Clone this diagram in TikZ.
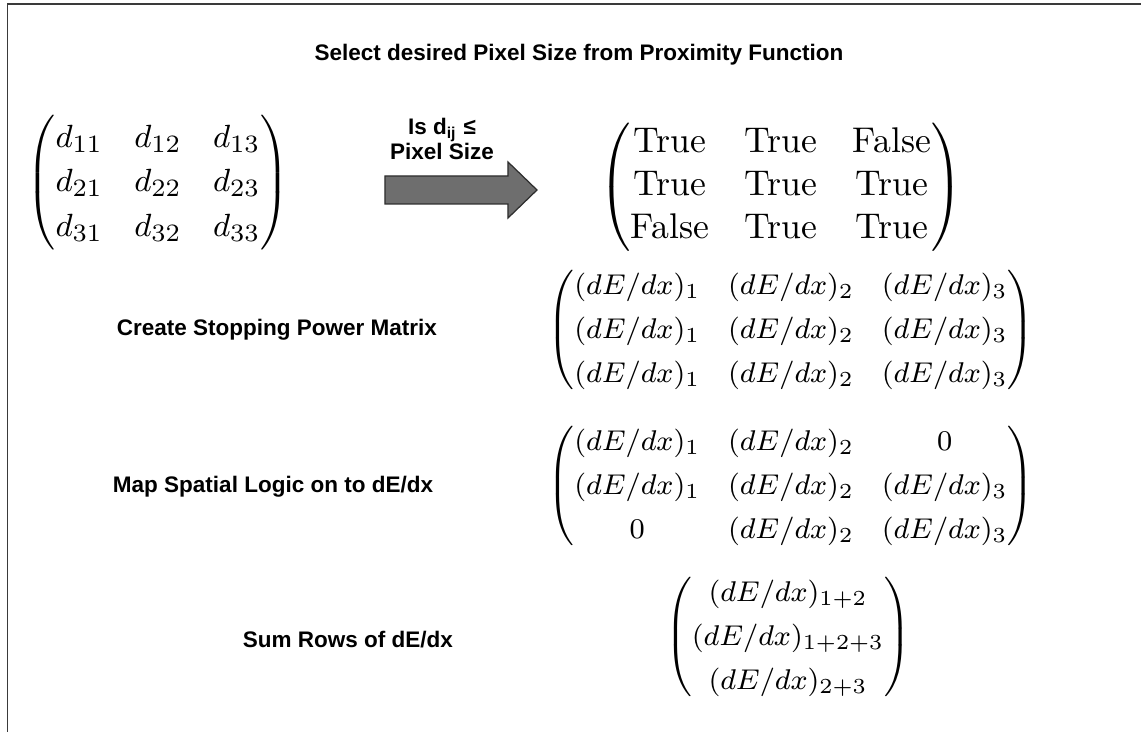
\documentclass[tikz,border=0pt]{standalone}
\usepackage{amsmath}
\usepackage{fontspec}
\newfontfamily\labfont{Liberation Sans}
\definecolor{framegray}{HTML}{3A3A3A}
\definecolor{arrowfill}{HTML}{6E6E6E}
\definecolor{arrowedge}{HTML}{2E2E2E}
\newcommand\smallmat{\fontsize{8.25}{11}\selectfont\setlength\arraycolsep{3.9pt}\renewcommand\arraystretch{1.12}\delimiterfactor=820 \delimitershortfall=10pt }
\newcommand\summat{\fontsize{8.5}{11}\selectfont\setlength\arraycolsep{3.9pt}\renewcommand\arraystretch{1.12}\delimiterfactor=820 \delimitershortfall=10pt }
\newcommand\dmat{\fontsize{9.5}{11.5}\selectfont\setlength\arraycolsep{4.4pt}\renewcommand\arraystretch{1.08}}
\tikzset{
  lbl/.style={font=\labfont\bfseries\fontsize{6.3}{7.6}\selectfont, align=center, inner sep=0pt},
  mat/.style={inner sep=0pt},
  framestyle/.style={draw=framegray, line width=0.5pt},
  bigarrow/.style={fill=arrowfill, draw=arrowedge, line width=0.35pt, line join=miter}
}
\begin{document}
\begin{tikzpicture}[x=0.28pt,y=-0.28pt]
\useasboundingbox (0,0) rectangle (1141,732);
\coordinate (fa) at (7.5,732);
\coordinate (fb) at (7.5,4);
\coordinate (fc) at (1141,4);
\draw[framestyle] (fa) -- (fb) -- (fc);

\node[lbl] (title) at (579,55) {Select desired Pixel Size from Proximity Function};

\node[mat] (D) at (158,183) {\dmat$\begin{pmatrix} d_{11} & d_{12} & d_{13}\\ d_{21} & d_{22} & d_{23}\\ d_{31} & d_{32} & d_{33}\end{pmatrix}$};

\node[lbl] (cond) at (442,139) {Is d\textsubscript{ij} ≤\\[-0.5pt]Pixel Size};
\filldraw[bigarrow] (385,176) -- (508,176) -- (508,162) -- (537,190) -- (508,218) -- (508,204) -- (385,204) -- cycle;

\node[mat] (TF) at (781,187) {$\begin{pmatrix} \text{True} & \text{True} & \text{False}\\ \text{True} & \text{True} & \text{True}\\ \text{False} & \text{True} & \text{True}\end{pmatrix}$};

\node[lbl] (stoplbl) at (277,330) {Create Stopping Power Matrix};
\node[mat] (stop) at (791,330) {\smallmat$\begin{pmatrix} (dE/dx)_1 & (dE/dx)_2 & (dE/dx)_3\\ (dE/dx)_1 & (dE/dx)_2 & (dE/dx)_3\\ (dE/dx)_1 & (dE/dx)_2 & (dE/dx)_3\end{pmatrix}$};

\node[lbl] (maplbl) at (273,487) {Map Spatial Logic on to dE/dx};
\node[mat] (map) at (791,486) {\smallmat$\begin{pmatrix} (dE/dx)_1 & (dE/dx)_2 & 0\\ (dE/dx)_1 & (dE/dx)_2 & (dE/dx)_3\\ 0 & (dE/dx)_2 & (dE/dx)_3\end{pmatrix}$};

\node[lbl] (sumlbl) at (348,640) {Sum Rows of dE/dx};
\node[mat] (sum) at (788,637) {\summat$\begin{pmatrix} (dE/dx)_{1+2}\\ (dE/dx)_{1+2+3}\\ (dE/dx)_{2+3}\end{pmatrix}$};
\end{tikzpicture}
\end{document}
